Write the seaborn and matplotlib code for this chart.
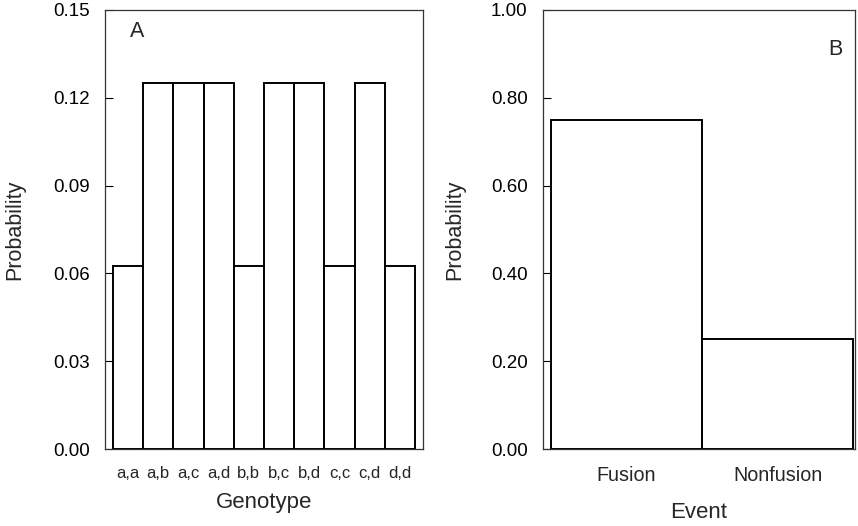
"""Genotype and fusion-event probability bar charts (panels A and B)."""

import matplotlib.pyplot as plt
import numpy as np
import pandas as pd
import seaborn as sns
from matplotlib.ticker import FormatStrFormatter

# Panel A: genotype probabilities
genotypes = ["a,a", "a,b", "a,c", "a,d", "b,b", "b,c", "b,d", "c,c", "c,d", "d,d"]
genotype_prob = [0.0625, 0.125, 0.125, 0.125, 0.0625, 0.125, 0.125, 0.0625, 0.125, 0.0625]
genotype_ticks = [0.00, 0.03, 0.06, 0.09, 0.12, 0.15]

# Panel B: event probabilities
events = ["Fusion", "Nonfusion"]
event_prob = [0.75, 0.25]
event_ticks = [0.00, 0.20, 0.40, 0.60, 0.80, 1.00]

sns.set_style("white")
plt.rcParams["font.family"] = ["Liberation Sans", "DejaVu Sans"]

fig = plt.figure(figsize=(8.58, 5.26), dpi=100)
ax_a = fig.add_axes([105 / 858, 77 / 526, 318 / 858, 439 / 526])
ax_b = fig.add_axes([543 / 858, 77 / 526, 312 / 858, 439 / 526])


def draw_panel(ax, cats, vals, ticks, xlabel, xtick_size, xlim, letter, letter_pos, xlab_y):
    df = pd.DataFrame({"cat": cats, "prob": vals})
    sns.barplot(data=df, x="cat", y="prob", ax=ax, color="white",
                edgecolor="black", linewidth=1.4, width=1.0, saturation=1)
    ax.set_xlim(*xlim)
    ax.set_ylim(ticks[0], ticks[-1])
    ax.set_yticks(ticks)
    ax.yaxis.set_major_formatter(FormatStrFormatter("%.2f"))
    ax.tick_params(axis="y", direction="in", length=6, width=0.8,
                   pad=11, labelsize=13.5, left=True, colors="black")
    ax.tick_params(axis="x", length=0, pad=12, labelsize=xtick_size)
    for spine in ax.spines.values():
        spine.set_visible(True)
        spine.set_color("#333333")
        spine.set_linewidth(0.9)
    ax.set_ylabel("Probability", fontsize=15.5)
    ax.yaxis.set_label_coords(-0.25, 0.5)
    ax.set_xlabel(xlabel, fontsize=16)
    ax.xaxis.set_label_coords(0.5, xlab_y)
    ax.xaxis.label.set_va("top")
    ax.text(letter_pos[0], letter_pos[1], letter, transform=ax.transAxes,
            fontsize=15.5, ha="center", va="center")


draw_panel(ax_a, genotypes, genotype_prob, genotype_ticks, "Genotype", 12,
           (-0.76, 9.76), "A", (0.1, 0.951), -0.098)
draw_panel(ax_b, events, event_prob, event_ticks, "Event", 14.2,
           (-0.553, 1.513), "B", (0.936, 0.909), -0.12)

fig.savefig("out.png", dpi=100)
plt.close(fig)
